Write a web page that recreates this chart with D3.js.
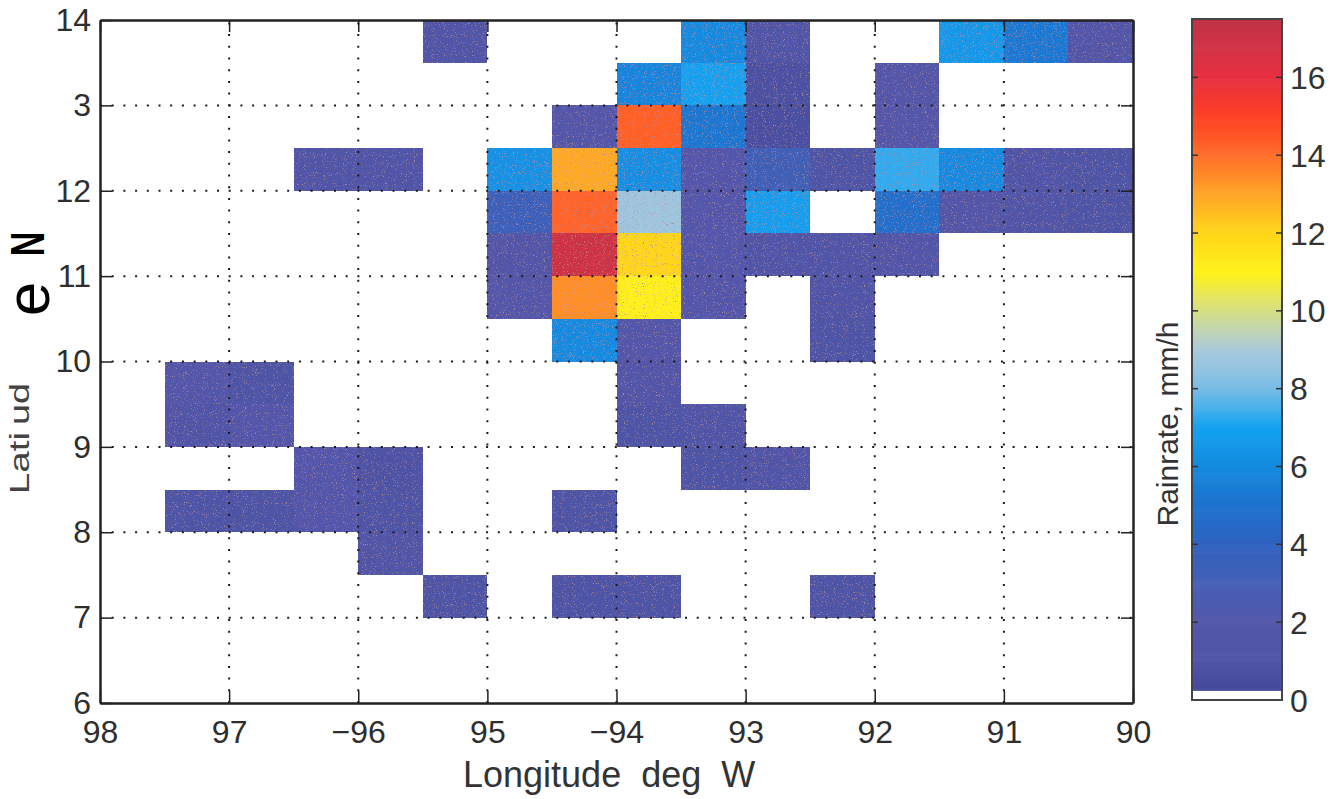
<!DOCTYPE html>
<html lang="en">
  <head>
    <meta charset="UTF-8" />
    <title>Rainrate</title>
    <style>
      body { margin: 0; background: #fff; }
      text { font-family: "Liberation Sans", Arial, sans-serif; }
    </style>
  </head>
  <body>
    <div class="chart"></div>
    <script src="https://d3js.org/d3.v7.min.js"></script>
    <script>
      const width = 1342;
      const height = 799;

      // cell centres (deg W, deg N) and rain rate (mm/h), 0.5 deg boxes
      const cellLon = [
        95.25, 93.25, 92.75, 91.25, 90.75, 90.25,
        93.75, 93.25, 92.75, 91.75,
        94.25, 93.75, 93.25, 92.75, 91.75,
        96.25, 95.75, 94.75, 94.25, 93.75, 93.25, 92.75, 92.25, 91.75, 91.25, 90.75, 90.25,
        94.75, 94.25, 93.75, 93.25, 92.75, 91.75, 91.25, 90.75, 90.25,
        94.75, 94.25, 93.75, 93.25, 92.75, 92.25, 91.75,
        94.75, 94.25, 93.75, 93.25, 92.25,
        94.25, 93.75, 92.25,
        97.25, 96.75, 93.75,
        97.25, 96.75, 93.75, 93.25,
        96.25, 95.75, 93.25, 92.75,
        97.25, 96.75, 96.25, 95.75, 94.25,
        95.75,
        95.25, 94.25, 93.75, 92.25,
      ];
      const cellLat = [
        13.75, 13.75, 13.75, 13.75, 13.75, 13.75,
        13.25, 13.25, 13.25, 13.25,
        12.75, 12.75, 12.75, 12.75, 12.75,
        12.25, 12.25, 12.25, 12.25, 12.25, 12.25, 12.25, 12.25, 12.25, 12.25, 12.25, 12.25,
        11.75, 11.75, 11.75, 11.75, 11.75, 11.75, 11.75, 11.75, 11.75,
        11.25, 11.25, 11.25, 11.25, 11.25, 11.25, 11.25,
        10.75, 10.75, 10.75, 10.75, 10.75,
        10.25, 10.25, 10.25,
        9.75, 9.75, 9.75,
        9.25, 9.25, 9.25, 9.25,
        8.75, 8.75, 8.75, 8.75,
        8.25, 8.25, 8.25, 8.25, 8.25,
        7.75,
        7.25, 7.25, 7.25, 7.25,
      ];
      const cellRain = [
        1.2, 6.0, 1.3, 6.6, 5.3, 1.5,
        5.8, 6.9, 0.8, 1.8,
        1.8, 14.3, 5.2, 0.7, 1.8,
        1.3, 1.4, 6.3, 12.9, 6.2, 2.0, 3.2, 1.0, 7.3, 6.0, 1.2, 1.0,
        3.4, 14.2, 8.8, 2.0, 6.8, 4.8, 1.5, 1.2, 1.0,
        1.6, 17.0, 12.0, 2.0, 1.2, 1.3, 1.6,
        1.8, 13.4, 11.1, 2.0, 1.4,
        6.0, 1.8, 1.0,
        1.8, 1.0, 1.6,
        1.2, 1.9, 1.1, 1.4,
        1.9, 0.9, 1.0, 1.2,
        1.1, 1.1, 1.9, 1.0, 1.1,
        1.3,
        1.1, 1.0, 1.0, 1.1,
      ];

      // tick labels as printed on the scan
      const lonTicks = [98, 97, 96, 95, 94, 93, 92, 91, 90];
      const lonTickLabels = ["98", "97", "\u221296", "95", "\u221294", "93", "92", "91", "90"];
      const latTicks = [6, 7, 8, 9, 10, 11, 12, 13, 14];
      const latTickLabels = ["6", "7", "8", "9", "10", "11", "12", "3", "14"];
      const rainTicks = [0, 2, 4, 6, 8, 10, 12, 14, 16];

      // colormap stops (mm/h -> colour)
      const cmapStops = [0.2, 1, 2, 3, 4, 5, 6, 7, 8, 9, 10, 11, 12, 13, 14, 15, 16, 17.5];
      const cmapColors = [
        "#44479a", "#5054a6", "#5357aa", "#4660b6", "#2f62c0", "#1e72ce",
        "#138ade", "#12a2f0", "#78bce6", "#a9c9dc", "#d6df86", "#fff21a",
        "#ffd61a", "#ffa526", "#ff6e2a", "#ff3f24", "#e83040", "#bf3348",
      ];

      const svg = d3
        .select(".chart")
        .append("svg")
        .attr("width", width)
        .attr("height", height);

      // scan-like speckle: sparse brownish dots over the cells
      const defs = svg.append("defs");
      const speckle = defs
        .append("filter")
        .attr("id", "speckle")
        .attr("x", 0)
        .attr("y", 0)
        .attr("width", 1)
        .attr("height", 1);
      speckle
        .append("feTurbulence")
        .attr("type", "fractalNoise")
        .attr("baseFrequency", 0.9)
        .attr("numOctaves", 2)
        .attr("seed", 7)
        .attr("result", "noise");
      speckle
        .append("feColorMatrix")
        .attr("in", "noise")
        .attr("type", "matrix")
        .attr("values", "0 0 0 0 0.42  0 0 0 0 0.27  0 0 0 0 0.3  5 0 0 0 -3.1")
        .attr("result", "dark");
      speckle
        .append("feComposite")
        .attr("in", "dark")
        .attr("in2", "SourceGraphic")
        .attr("operator", "in")
        .attr("result", "darkIn");
      const merge = speckle.append("feMerge");
      merge.append("feMergeNode").attr("in", "SourceGraphic");
      merge.append("feMergeNode").attr("in", "darkIn");

      const x = d3.scaleLinear().domain([98, 90]).range([100, 1133]);
      const y = d3.scaleLinear().domain([6, 14]).range([703, 20]);
      const color = d3
        .scaleLinear()
        .domain(cmapStops)
        .range(cmapColors)
        .clamp(true);

      // cells
      svg
        .append("g")
        .attr("filter", "url(#speckle)")
        .selectAll("rect")
        .data(cellRain)
        .join("rect")
        .attr("x", (d, i) => x(cellLon[i] + 0.25))
        .attr("y", (d, i) => y(cellLat[i] + 0.25))
        .attr("width", (d, i) => x(cellLon[i] - 0.25) - x(cellLon[i] + 0.25))
        .attr("height", (d, i) => y(cellLat[i] - 0.25) - y(cellLat[i] + 0.25))
        .attr("fill", (d) => color(d))
        .attr("shape-rendering", "crispEdges");

      // dotted grid on top
      const gridLon = lonTicks.slice(1, -1);
      const gridLat = latTicks.slice(1, -1);
      const grid = svg
        .append("g")
        .attr("stroke", "#1a1a1a")
        .attr("stroke-width", 2)
        .attr("stroke-dasharray", "2,9.7");
      grid
        .selectAll(".gx")
        .data(gridLon)
        .join("line")
        .attr("x1", (d) => x(d))
        .attr("x2", (d) => x(d))
        .attr("y1", y(6))
        .attr("y2", y(14));
      grid
        .selectAll(".gy")
        .data(gridLat)
        .join("line")
        .attr("y1", (d) => y(d))
        .attr("y2", (d) => y(d))
        .attr("x1", x(98))
        .attr("x2", x(90));

      // axes
      const xAxis = svg
        .append("g")
        .attr("transform", `translate(0,${y(6)})`)
        .call(
          d3
            .axisBottom(x)
            .tickValues(lonTicks)
            .tickFormat((d, i) => lonTickLabels[i])
            .tickSizeInner(-12)
            .tickSizeOuter(0)
            .tickPadding(17)
        );
      const xAxisTop = svg
        .append("g")
        .attr("transform", `translate(0,${y(14)})`)
        .call(d3.axisTop(x).tickValues(lonTicks).tickFormat("").tickSizeInner(-12).tickSizeOuter(0));
      const yAxis = svg
        .append("g")
        .attr("transform", `translate(${x(98)},0)`)
        .call(
          d3
            .axisLeft(y)
            .tickValues(latTicks)
            .tickFormat((d, i) => latTickLabels[i])
            .tickSizeInner(-12)
            .tickSizeOuter(0)
            .tickPadding(9)
        );
      const yAxisRight = svg
        .append("g")
        .attr("transform", `translate(${x(90)},0)`)
        .call(d3.axisRight(y).tickValues(latTicks).tickFormat("").tickSizeInner(-12).tickSizeOuter(0));

      [xAxis, xAxisTop, yAxis, yAxisRight].forEach((g) => {
        g.select(".domain").attr("stroke", "#222").attr("stroke-width", 2.5);
        g.selectAll(".tick line").attr("stroke", "#222").attr("stroke-width", 1.5);
        g.selectAll(".tick text")
          .attr("fill", "#2e2e2e")
          .style("font-size", "32px");
      });

      // axis titles
      svg
        .append("text")
        .attr("x", 463)
        .attr("y", 787)
        .attr("fill", "#333")
        .style("font-size", "36px")
        .style("white-space", "pre")
        .text("Longitude  deg  W");

      // y title as it survives on the scan
      const yLabel = [
        { t: "Lati", cx: 29, cy: 463, size: 28, sx: 1.38, sy: 1, fill: "#444", weight: "normal" },
        { t: "ud", cx: 29, cy: 404, size: 28, sx: 1.35, sy: 1, fill: "#444", weight: "normal" },
        { t: "e", cx: 49, cy: 299, size: 62, sx: 1, sy: 1, fill: "#000", weight: "normal" },
        { t: "N", cx: 44, cy: 244, size: 34, sx: 1, sy: 1.4, fill: "#000", weight: "bold" },
      ];
      svg
        .append("g")
        .selectAll("text")
        .data(yLabel)
        .join("text")
        .attr("transform", (d) => `translate(${d.cx},${d.cy}) rotate(-90) scale(${d.sx},${d.sy})`)
        .attr("text-anchor", "middle")
        .attr("fill", (d) => d.fill)
        .style("font-weight", (d) => d.weight)
        .style("font-size", (d) => d.size + "px")
        .text((d) => d.t);

      // colorbar
      const cb = { x0: 1192, x1: 1282 };
      const cbY = d3.scaleLinear().domain([0, 17.5]).range([700, 19]);
      const cbSteps = d3.range(0.25, 17.5, 0.05);
      svg
        .append("g")
        .selectAll("rect")
        .data(cbSteps)
        .join("rect")
        .attr("x", cb.x0)
        .attr("width", cb.x1 - cb.x0)
        .attr("y", (d) => cbY(d + 0.05))
        .attr("height", (d) => cbY(d) - cbY(d + 0.05) + 0.6)
        .attr("fill", (d) => color(d + 0.025));
      svg
        .append("rect")
        .attr("x", cb.x0)
        .attr("y", cbY(17.5))
        .attr("width", cb.x1 - cb.x0)
        .attr("height", cbY(0) - cbY(17.5))
        .attr("fill", "none")
        .attr("stroke", "#444")
        .attr("stroke-width", 2);

      const cbTickG = svg.append("g").attr("stroke", "#333").attr("stroke-width", 1.5);
      cbTickG
        .selectAll(".l")
        .data(rainTicks.slice(1))
        .join("line")
        .attr("x1", cb.x0)
        .attr("x2", cb.x0 + 6)
        .attr("y1", (d) => cbY(d))
        .attr("y2", (d) => cbY(d));
      cbTickG
        .selectAll(".r")
        .data(rainTicks.slice(1))
        .join("line")
        .attr("x1", cb.x1 - 6)
        .attr("x2", cb.x1)
        .attr("y1", (d) => cbY(d))
        .attr("y2", (d) => cbY(d));

      svg
        .append("g")
        .selectAll("text")
        .data(rainTicks)
        .join("text")
        .attr("x", cb.x1 + 8)
        .attr("y", (d) => cbY(d))
        .attr("dy", "0.36em")
        .attr("fill", "#333")
        .style("font-size", "32px")
        .text((d) => d);

      svg
        .append("text")
        .attr("transform", "translate(1178,424) rotate(-90)")
        .attr("text-anchor", "middle")
        .attr("fill", "#333")
        .style("font-size", "30px")
        .text("Rainrate, mm/h");
    </script>
  </body>
</html>
